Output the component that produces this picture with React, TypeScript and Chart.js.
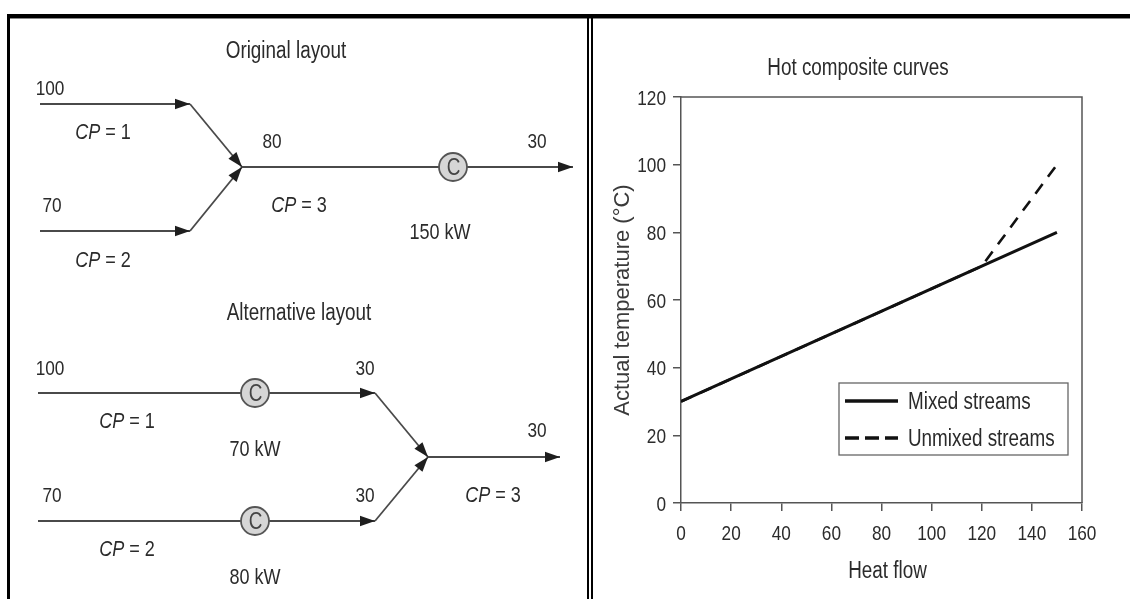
import React, { useEffect, useRef } from 'react';
import { Chart, registerables } from 'chart.js';

Chart.register(...registerables);

// ---------- fonts / colours ----------
const BASE = "'Liberation Sans', Arial, sans-serif";
const SQUEEZE = 0.82; // horizontal compression -> condensed face
const TEXT = '#2b2b2b';
const AXIS = '#555555';

// ---------- right chart data ----------
const heatFlow = [0, 120, 150];
const mixedTemps = [30, 70, 80];
const unmixedTemps = [30, 70, 100];
const seriesLabels = ['Mixed streams', 'Unmixed streams'];
const xRange = [0, 160];
const yRange = [0, 120];
const tickStep = 20;
const chartTitle = 'Hot composite curves';
const xTitle = 'Heat flow';
const yTitle = 'Actual temperature (°C)';

// ---------- left diagram data ----------
const layoutTitles = ['Original layout', 'Alternative layout'];
const inletTemps = [100, 70];
const streamCPs = [1, 2];
const mixedCP = 3;
const mixedTemp = 80;
const targetTemp = 30;
const originalDuties = [150];
const alternativeDuties = [70, 80];

// ---------- diagram geometry (page pixels) ----------
type P = { x: number; y: number };
const seg = (a: number[], b: number[]) => [{ x: a[0], y: a[1] }, { x: b[0], y: b[1] }];
const diagramSegments: P[][] = [
  // original layout
  seg([40, 104], [190, 104]),
  seg([190, 104], [242, 167]),
  seg([40, 231], [190, 231]),
  seg([190, 231], [242, 167]),
  seg([242, 167], [573, 167]),
  // alternative layout
  seg([38, 393], [375, 393]),
  seg([375, 393], [428, 457]),
  seg([38, 521], [375, 521]),
  seg([375, 521], [428, 457]),
  seg([428, 457], [560, 457]),
];
const coolerPositions: P[] = [
  { x: 453, y: 167 },
  { x: 255, y: 393 },
  { x: 255, y: 521 },
];

// x = centre, y = cap-height centre
type Lbl = { cp?: number; text?: string; x: number; y: number; size?: number };
const diagramLabels: Lbl[] = [
  { text: layoutTitles[0], x: 286, y: 49.5, size: 23 },
  { text: `${inletTemps[0]}`, x: 50, y: 87, size: 21 },
  { cp: streamCPs[0], x: 103, y: 131 },
  { text: `${mixedTemp}`, x: 272, y: 140, size: 21 },
  { text: `${targetTemp}`, x: 537, y: 140, size: 21 },
  { text: `${inletTemps[1]}`, x: 52, y: 204, size: 21 },
  { cp: mixedCP, x: 299, y: 204 },
  { text: `${originalDuties[0]} kW`, x: 440, y: 231 },
  { cp: streamCPs[1], x: 103, y: 259 },

  { text: layoutTitles[1], x: 299, y: 312, size: 23 },
  { text: `${inletTemps[0]}`, x: 50, y: 367, size: 21 },
  { text: `${targetTemp}`, x: 365, y: 367, size: 21 },
  { cp: streamCPs[0], x: 127, y: 420 },
  { text: `${alternativeDuties[0]} kW`, x: 255, y: 448 },
  { text: `${targetTemp}`, x: 537, y: 429, size: 21 },
  { text: `${inletTemps[1]}`, x: 52, y: 494, size: 21 },
  { text: `${targetTemp}`, x: 365, y: 494, size: 21 },
  { cp: mixedCP, x: 493, y: 494 },
  { cp: streamCPs[1], x: 127, y: 548 },
  { text: `${alternativeDuties[1]} kW`, x: 255, y: 576 },
];

// ---------- text helpers ----------
function fontStr(size: number, italic?: boolean) {
  return `${italic ? 'italic ' : ''}${size}px ${BASE}`;
}
function narrowWidth(ctx: CanvasRenderingContext2D, text: string, size: number, italic?: boolean) {
  ctx.save();
  ctx.font = fontStr(size, italic);
  const w = ctx.measureText(text).width * SQUEEZE;
  ctx.restore();
  return w;
}
function narrowText(
  ctx: CanvasRenderingContext2D,
  text: string,
  x: number,
  capCenterY: number,
  size: number,
  align: CanvasTextAlign = 'center',
  italic = false,
  color = TEXT
) {
  ctx.save();
  ctx.font = fontStr(size, italic);
  ctx.fillStyle = color;
  ctx.textAlign = align;
  ctx.textBaseline = 'alphabetic';
  ctx.translate(x, capCenterY + 0.358 * size);
  ctx.scale(SQUEEZE, 1);
  ctx.fillText(text, 0, 0);
  ctx.restore();
}

// ---------- plugins ----------
const diagramPlugin = {
  id: 'diagramDecor',
  afterDatasetsDraw(chart: any) {
    const { ctx } = chart;
    const xs = chart.scales.x;
    const ys = chart.scales.y;
    ctx.save();
    // arrow heads
    chart.data.datasets.forEach((ds: any) => {
      if (!ds.arrow) return;
      const pts = ds.data;
      const a = pts[pts.length - 2];
      const b = pts[pts.length - 1];
      const ax = xs.getPixelForValue(a.x), ay = ys.getPixelForValue(a.y);
      const bx = xs.getPixelForValue(b.x), by = ys.getPixelForValue(b.y);
      const ang = Math.atan2(by - ay, bx - ax);
      const len = 15, half = 5.2;
      ctx.fillStyle = '#1e1e1e';
      ctx.beginPath();
      ctx.moveTo(bx, by);
      ctx.lineTo(bx - len * Math.cos(ang) + half * Math.sin(ang), by - len * Math.sin(ang) - half * Math.cos(ang));
      ctx.lineTo(bx - len * Math.cos(ang) - half * Math.sin(ang), by - len * Math.sin(ang) + half * Math.cos(ang));
      ctx.closePath();
      ctx.fill();
    });
    ctx.restore();
  },
  afterDraw(chart: any) {
    const { ctx } = chart;
    const xs = chart.scales.x;
    const ys = chart.scales.y;
    coolerPositions.forEach((c) => {
      narrowText(ctx, 'C', xs.getPixelForValue(c.x) + 0.5, ys.getPixelForValue(c.y), 23, 'center', false, '#444');
    });
    diagramLabels.forEach((l) => {
      const px = xs.getPixelForValue(l.x);
      const py = ys.getPixelForValue(l.y);
      const size = l.size || 22;
      if (l.cp !== undefined) {
        const rest = ` = ${l.cp}`;
        const w1 = narrowWidth(ctx, 'CP', size, true);
        const w2 = narrowWidth(ctx, rest, size, false);
        const start = px - (w1 + w2) / 2;
        narrowText(ctx, 'CP', start, py, size, 'left', true);
        narrowText(ctx, rest, start + w1, py, size, 'left', false);
      } else {
        narrowText(ctx, l.text as string, px, py, size, 'center');
      }
    });
  },
};

const compositeDecorPlugin = {
  id: 'compositeDecor',
  afterDraw(chart: any) {
    const { ctx, chartArea } = chart;
    const xs = chart.scales.x;
    const ys = chart.scales.y;
    ctx.save();
    // plot frame top/right
    ctx.strokeStyle = AXIS;
    ctx.lineWidth = 1.5;
    ctx.beginPath();
    ctx.moveTo(chartArea.left, chartArea.top);
    ctx.lineTo(chartArea.right, chartArea.top);
    ctx.lineTo(chartArea.right, chartArea.bottom);
    ctx.stroke();
    ctx.restore();

    // tick labels from the library's scales
    xs.ticks.forEach((t: any) => {
      narrowText(ctx, String(t.label), xs.getPixelForValue(t.value), chartArea.bottom + 29.5, 21, 'center');
    });
    ys.ticks.forEach((t: any) => {
      narrowText(ctx, String(t.label), chartArea.left - 15, ys.getPixelForValue(t.value), 21, 'right');
    });

    // chart title and x-axis title
    narrowText(ctx, chartTitle, chart.width / 2 - 4, 48, 23, 'center');
    narrowText(ctx, xTitle, (chartArea.left + chartArea.right) / 2 + 6, chartArea.bottom + 67, 23, 'center');

    // legend box
    const bx = chartArea.left + 158;
    const by = chartArea.top + 286;
    const bw = 229;
    const bh = 72;
    ctx.save();
    ctx.fillStyle = '#fff';
    ctx.fillRect(bx, by, bw, bh);
    ctx.strokeStyle = '#666';
    ctx.lineWidth = 1.3;
    ctx.strokeRect(bx, by, bw, bh);
    chart.data.datasets.forEach((ds: any, i: number) => {
      const rowY = by + 18 + i * 37;
      ctx.strokeStyle = '#111';
      ctx.lineWidth = 3.5;
      ctx.setLineDash(i === 0 ? [] : [14, 6]);
      ctx.beginPath();
      ctx.moveTo(bx + 6, rowY);
      ctx.lineTo(bx + 59, rowY);
      ctx.stroke();
      ctx.setLineDash([]);
      narrowText(ctx, ds.label, bx + 69, rowY, 23, 'left');
    });
    ctx.restore();
  },
};

// ---------- components ----------
function DiagramChart() {
  const ref = useRef<HTMLCanvasElement>(null);
  useEffect(() => {
    const datasets: any[] = [
      {
        label: 'coolers',
        data: coolerPositions,
        showLine: false,
        pointRadius: 14,
        pointBackgroundColor: '#d6d6d6',
        pointBorderColor: '#555',
        pointBorderWidth: 1.8,
        clip: false,
      },
      ...diagramSegments.map((s, i) => ({
        label: `stream ${i}`,
        data: s,
        showLine: true,
        borderColor: '#4a4a4a',
        borderWidth: 1.8,
        pointRadius: 0,
        arrow: true,
        clip: false,
      })),
    ];
    const chart = new Chart(ref.current as HTMLCanvasElement, {
      type: 'scatter',
      data: { datasets },
      options: {
        animation: false,
        responsive: false,
        layout: { padding: 0, autoPadding: false },
        plugins: { legend: { display: false }, tooltip: { enabled: false }, title: { display: false } },
        scales: {
          x: { type: 'linear', min: 0, max: 588, display: false },
          y: { type: 'linear', min: 0, max: 599, reverse: true, display: false },
        },
      } as any,
      plugins: [diagramPlugin],
    });
    return () => chart.destroy();
  }, []);
  return (
    <canvas
      ref={ref}
      width={588}
      height={599}
      style={{ position: 'absolute', left: 0, top: 0, width: 588, height: 599 }}
    />
  );
}

function CompositeChart() {
  const ref = useRef<HTMLCanvasElement>(null);
  useEffect(() => {
    const chart = new Chart(ref.current as HTMLCanvasElement, {
      type: 'scatter',
      data: {
        datasets: [
          {
            label: seriesLabels[0],
            data: heatFlow.map((x, i) => ({ x, y: mixedTemps[i] })),
            showLine: true,
            borderColor: '#111',
            borderWidth: 3,
            pointRadius: 0,
          },
          {
            label: seriesLabels[1],
            data: heatFlow.map((x, i) => ({ x, y: unmixedTemps[i] })),
            showLine: true,
            borderColor: '#111',
            borderWidth: 2.6,
            borderDash: [12, 9],
            pointRadius: 0,
          },
        ],
      },
      options: {
        animation: false,
        responsive: false,
        layout: { padding: { left: 0, right: 48, top: 78, bottom: 0 }, autoPadding: false },
        plugins: {
          legend: { display: false },
          tooltip: { enabled: false },
          title: { display: false },
        },
        scales: {
          x: {
            type: 'linear',
            min: xRange[0],
            max: xRange[1],
            ticks: { stepSize: tickStep, display: false },
            grid: { drawOnChartArea: false, drawTicks: true, tickLength: 8, color: AXIS, lineWidth: 1.5 },
            border: { display: true, color: AXIS, width: 1.5 },
            afterFit: (s: any) => {
              s.height = 96;
            },
          },
          y: {
            type: 'linear',
            min: yRange[0],
            max: yRange[1],
            ticks: { stepSize: tickStep, display: false },
            grid: { drawOnChartArea: false, drawTicks: true, tickLength: 8, color: AXIS, lineWidth: 1.5 },
            border: { display: true, color: AXIS, width: 1.5 },
            title: {
              display: true,
              text: yTitle,
              color: '#3a3a3a',
              font: { family: BASE, size: 22 },
              padding: { top: 16, bottom: 0 },
            },
            afterFit: (s: any) => {
              s.width = 87;
            },
          },
        },
      } as any,
      plugins: [compositeDecorPlugin],
    });
    return () => chart.destroy();
  }, []);
  return (
    <canvas
      ref={ref}
      width={536}
      height={580}
      style={{ position: 'absolute', left: 594, top: 19, width: 536, height: 580 }}
    />
  );
}

export default function App() {
  return (
    <div
      style={{
        position: 'absolute',
        left: 0,
        top: 0,
        width: 1130,
        height: 599,
        background: '#fff',
        overflow: 'hidden',
      }}
    >
      <DiagramChart />
      <CompositeChart />
      {/* frame */}
      <div style={{ position: 'absolute', left: 7, top: 14, width: 1123, height: 4, background: '#000' }} />
      <div style={{ position: 'absolute', left: 7, top: 18, width: 1123, height: 1, background: '#888' }} />
      <div style={{ position: 'absolute', left: 7, top: 14, width: 3, height: 585, background: '#000' }} />
      <div style={{ position: 'absolute', left: 587, top: 14, width: 2, height: 585, background: '#000' }} />
      <div style={{ position: 'absolute', left: 591, top: 14, width: 2, height: 585, background: '#000' }} />
    </div>
  );
}
